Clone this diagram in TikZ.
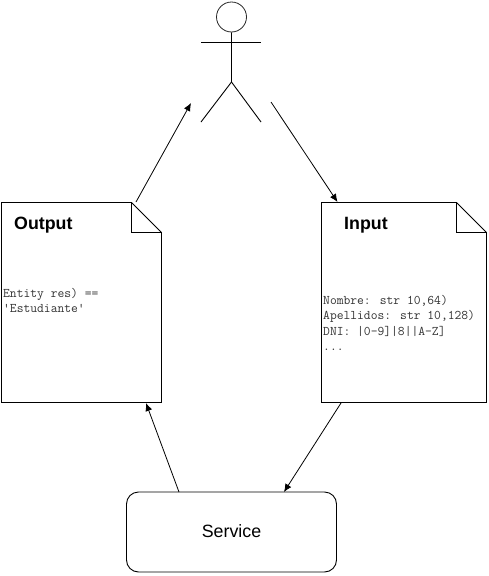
\documentclass[tikz,border=0pt]{standalone}
\usepackage{fontspec}
\setmainfont{Liberation Sans}
\usetikzlibrary{arrows.meta}
\tikzset{
  x=1pt,y=-1pt,
  line/.style={draw=black,line width=0.9pt,line join=miter},
  flow/.style={draw=black,line width=0.8pt,-{Latex[length=8pt,width=7pt]},shorten >=0pt},
  title/.style={anchor=base west,inner sep=0pt,font=\fontsize{17.8}{18}\selectfont\bfseries},
  code/.style={anchor=base west,inner sep=0pt,text=black!80,font=\fontsize{13.2}{14}\ttfamily},
}
\begin{document}
\begin{tikzpicture}
\useasboundingbox (0,0) rectangle (488,576);
\fill[white] (0,0) rectangle (488,576);
% Output document
\draw[line] (1.5,202.5) -- (131.5,202.5) -- (161.5,232.5) -- (161.5,402.5) -- (1.5,402.5) -- cycle;
\draw[line,line width=0.7pt] (131.5,202.5) -- (131.5,232.5) -- (161.5,232.5);
\node[title] (outtitle) at (14,229) {Output};
\node[code] (out1) at (3,297) {Entity res) ==};
\node[code] (out2) at (3,312) {'Estudiante'};
% Input document
\draw[line] (321.5,202.5) -- (456.5,202.5) -- (486.5,232.5) -- (486.5,402.5) -- (321.5,402.5) -- cycle;
\draw[line,line width=0.7pt] (456.5,202.5) -- (456.5,232.5) -- (486.5,232.5);
\node[title] (intitle) at (344,229) {Input};
\node[code] (in1) at (323,304) {Nombre: str 10,64)};
\node[code] (in2) at (323,319) {Apellidos: str 10,128)};
\node[code] (in3) at (323,335) {DNI: |0-9]|8||A-Z]};
\node[code] (in4) at (323,350) {...};
% Service
\node[draw=black,line width=0.9pt,rounded corners=12pt,minimum width=210pt,minimum height=80pt,inner sep=0pt,font=\fontsize{17.8}{18}\selectfont] (service) at (231.5,532) {\raisebox{1.5pt}{Service}};
% Actor
\node[draw=black!85,line width=0.8pt,circle,minimum size=30pt,inner sep=0pt] (head) at (231.5,17) {};
\draw[line] (201,42.5) -- (261,42.5);
\draw[line] (head.south) -- (231.5,82) -- (201,122);
\draw[line] (231.5,82) -- (261,122);
% Connector ends
\coordinate (a1) at (136,202);
\coordinate (a2) at (191,103);
\coordinate (b1) at (271,102);
\coordinate (b2) at (337.5,202);
\coordinate (c1) at (341,403);
\coordinate (c2) at (284,492);
\coordinate (d1) at (179,492);
\coordinate (d2) at (146,403);
\draw[flow] (a1) -- (a2);
\draw[flow] (b1) -- (b2);
\draw[flow] (c1) -- (c2);
\draw[flow] (d1) -- (d2);
\end{tikzpicture}
\end{document}
